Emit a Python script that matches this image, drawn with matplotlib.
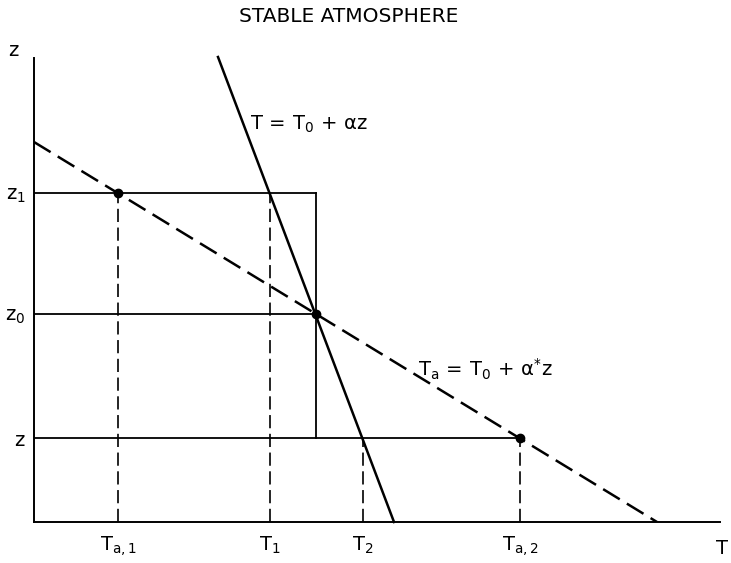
import matplotlib.pyplot as plt

plt.rcParams['font.family'] = 'DejaVu Sans'
plt.rcParams['mathtext.fontset'] = 'dejavusans'
plt.rcParams['mathtext.default'] = 'regular'
plt.rcParams['lines.scale_dashes'] = False

# levels on the height axis and temperatures read at them
z_levels = [0.84, 2.08, 3.29]          # z, z0, z1
z_labels = ['$z$', '$z_0$', '$z_1$']
T_ticks = [0.84, 2.36, 3.29, 4.86]     # Ta,1  T1  T2  Ta,2
T_labels = ['$T_{a,1}$', '$T_1$', '$T_2$', '$T_{a,2}$']

# parcel line  T = T0 + a z   (solid)
parcel_T = [1.84, 3.60]
parcel_z = [4.65, 0.0]
# environment line  Ta = T0 + a* z   (dashed)
env_T = [0.0, 6.23]
env_z = [3.80, 0.0]

# points marked on the lines
dot_T = [0.84, 2.82, 4.86]
dot_z = [3.29, 2.08, 0.84]
T0 = 2.82

fig = plt.figure(figsize=(7.31, 5.63), dpi=100)
ax = fig.add_axes([34/731, 41/563, 686/731, 464/563])
ax.set_xlim(0, 6.86)
ax.set_ylim(0, 4.64)
for s in ['top', 'right']:
    ax.spines[s].set_visible(False)
for s in ['left', 'bottom']:
    ax.spines[s].set_linewidth(1.4)

ax.set_xticks(T_ticks, T_labels, fontsize=14)
ax.set_yticks(z_levels, z_labels, fontsize=14)
ax.tick_params(length=0, pad=9)
ax.tick_params(axis='y', pad=6)

# horizontal solid lines at z1, z0 and z
ax.plot([0, T0], [z_levels[2]] * 2, color='k', lw=1.3)
ax.plot([0, T0], [z_levels[1]] * 2, color='k', lw=1.3)
ax.plot([0, dot_T[2]], [z_levels[0]] * 2, color='k', lw=1.3)
# vertical solid line from z1 to z
ax.plot([T0, T0], [z_levels[0], z_levels[2]], color='k', lw=1.3)

# dashed verticals
ax.plot([T_ticks[0]] * 2, [0, z_levels[2]], color='k', lw=1.2, dashes=(9.5, 4))
ax.plot([T_ticks[1]] * 2, [0, z_levels[2]], color='k', lw=1.2, dashes=(9.5, 4))
ax.plot([T_ticks[2]] * 2, [0, z_levels[0]], color='k', lw=1.2, dashes=(9.5, 4))
ax.plot([T_ticks[3]] * 2, [0, z_levels[0]], color='k', lw=1.2, dashes=(9.5, 4))

ax.plot(parcel_T, parcel_z, color='k', lw=1.8, clip_on=False)
ax.plot(env_T, env_z, color='k', lw=1.8, dashes=(14, 6))
ax.plot(dot_T, dot_z, 'o', color='k', ms=6)

ax.text(2.16, 3.98, r'$T\,=\,T_0\,+\,\alpha z$', fontsize=14, va='center')
ax.text(3.84, 1.53, r'$T_a\,=\,T_0\,+\,\alpha^{*}z$', fontsize=14, va='center')

fig.text(349/731, 1 - 16/563, 'STABLE ATMOSPHERE', fontsize=14.5, ha='center', va='center')
fig.text(14/731, 1 - 50/563, '$z$', fontsize=14, ha='center', va='center')
fig.text(729/731, 1 - 548/563, '$T$', fontsize=14, ha='right', va='center')

plt.savefig('out.png', dpi=100)
